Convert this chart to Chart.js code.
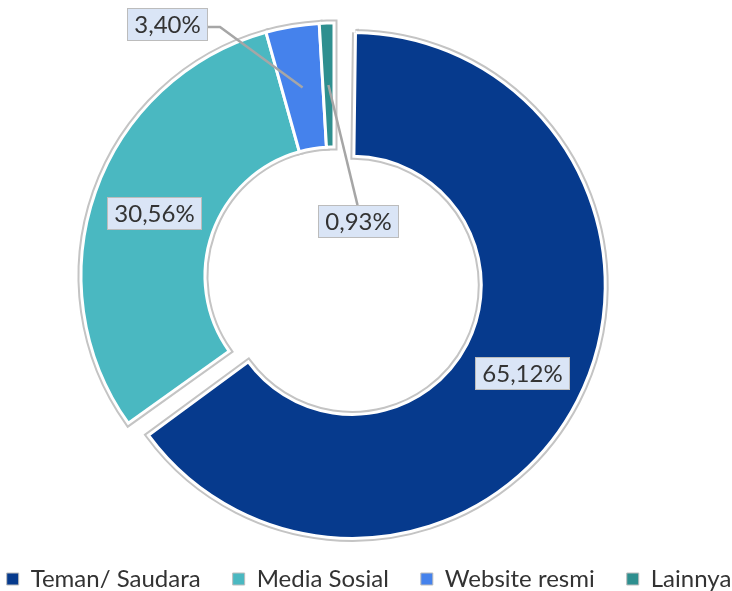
<!DOCTYPE html>
<html>
<head>
<meta charset="utf-8">
<script src="https://cdn.jsdelivr.net/npm/chart.js@4.4.1/dist/chart.umd.min.js"></script>
<style>
  html, body { margin: 0; padding: 0; background: #ffffff; }
  #wrap { width: 732px; height: 591px; position: relative; }
</style>
</head>
<body>
<div id="wrap"><canvas id="c" width="732" height="591"></canvas></div>
<script>
// ---- data ----
const categories = ['Teman/ Saudara', 'Media Sosial', 'Website resmi', 'Lainnya'];
const values = [65.12, 30.56, 3.40, 0.93];
const colors = ['#063a8d', '#4ab8c1', '#4582ec', '#2e8f8f'];

function fmt(v) { return v.toFixed(2).replace('.', ',') + '%'; }

// Chart.js moves an exploded arc by offset/4 and widens it by offset/4*fix
function explodeParts(arc) {
  const off = (arc.options.offset || 0) / 4;
  const fix = 1 - Math.sin(Math.min(Math.PI, arc.circumference || 0));
  return { off: off, grow: off * fix };
}

// keep an exploded slice at the same ring size as the others
const explodeFixPlugin = {
  id: 'explodeFix',
  afterDatasetsUpdate(chart) {
    const meta = chart.getDatasetMeta(0);
    meta.data.forEach(arc => {
      const e = explodeParts(arc);
      if (e.grow) {
        arc.outerRadius -= e.grow;
        arc.innerRadius -= e.grow;
      }
    });
  }
};

// draws a light grey outline around the slices (behind the white borders)
const outlinePlugin = {
  id: 'sliceOutline',
  beforeDatasetsDraw(chart, args, opts) {
    const ctx = chart.ctx;
    const meta = chart.getDatasetMeta(0);
    meta.data.forEach(arc => {
      const o = arc.options;
      arc.options = Object.assign({}, o, { borderColor: opts.color, borderWidth: opts.width, borderJoinStyle: 'miter' });
      arc.draw(ctx);
      arc.options = o;
    });
  }
};

// places the plot centre
const placePlugin = {
  id: 'place',
  afterLayout(chart, args, opts) {
    const r = opts.half;
    chart.chartArea = { left: opts.cx - r, right: opts.cx + r, top: opts.cy - r, bottom: opts.cy + r, width: 2 * r, height: 2 * r };
  }
};

// data labels with boxes and leader lines
const labelPlugin = {
  id: 'pieLabels',
  afterDatasetsDraw(chart, args, opts) {
    const ctx = chart.ctx;
    const meta = chart.getDatasetMeta(0);
    ctx.save();
    ctx.font = opts.font;
    ctx.textAlign = 'center';
    ctx.textBaseline = 'middle';
    meta.data.forEach((arc, i) => {
      const p = arc.getProps(['x', 'y', 'startAngle', 'endAngle', 'innerRadius', 'outerRadius', 'circumference']);
      const mid = (p.startAngle + p.endAngle) / 2;
      const e = explodeParts(arc);
      const rm = (p.innerRadius + p.outerRadius) / 2 + e.grow;
      const cx = p.x + Math.cos(mid) * (rm + e.off);
      const cy = p.y + Math.sin(mid) * (rm + e.off);
      const text = fmt(chart.data.datasets[0].data[i]);
      const tw = ctx.measureText(text).width;
      const bw = Math.round(tw + 2 * opts.padX);
      const bh = opts.boxH;
      const pos = opts.positions[i];
      let lx = cx, ly = cy;
      if (pos) {
        lx = p.x + pos[0] * p.outerRadius;
        ly = p.y + pos[1] * p.outerRadius;
        ctx.strokeStyle = opts.lineColor;
        ctx.lineWidth = opts.lineWidth;
        ctx.lineJoin = 'miter';
        ctx.beginPath();
        ctx.moveTo(cx, cy);
        if (opts.attach[i] === 'right') {
          ctx.lineTo(lx + bw / 2 + 13, ly + 3);
          ctx.lineTo(lx + bw / 2, ly + 3);
        } else {
          ctx.lineTo(lx, ly - bh / 2);
        }
        ctx.stroke();
      }
      const bx = Math.round(lx - bw / 2) + 0.5;
      const by = Math.round(ly - bh / 2) + 0.5;
      ctx.fillStyle = opts.boxFill;
      ctx.fillRect(bx, by, bw, bh);
      ctx.strokeStyle = opts.boxBorder;
      ctx.lineWidth = 1;
      ctx.strokeRect(bx, by, bw, bh);
      ctx.fillStyle = opts.textColor;
      ctx.fillText(text, bx + bw / 2, by + bh / 2 + 1);
    });
    ctx.restore();
  }
};

new Chart(document.getElementById('c'), {
  type: 'doughnut',
  data: {
    labels: categories,
    datasets: [{
      data: values,
      backgroundColor: colors,
      borderColor: '#ffffff',
      borderWidth: 3,
      borderJoinStyle: 'miter',
      offset: [82, 0, 0, 0],
      hoverOffset: 0,
      radius: 253,
      clip: false
    }]
  },
  options: {
    responsive: false,
    animation: false,
    events: [],
    cutout: '51%',
    layout: { padding: { left: -27, right: -33, top: 0, bottom: -10 } },
    plugins: {
      tooltip: { enabled: false },
      legend: {
        position: 'bottom',
        labels: {
          font: { family: 'Lato', size: 24 },
          color: '#333333',
          boxWidth: 12,
          boxHeight: 12,
          padding: 32,
          generateLabels: (chart) => categories.map((t, i) => ({
            text: t,
            fillStyle: colors[i],
            strokeStyle: '#bdbdbd',
            lineWidth: 1,
            hidden: false,
            index: i,
            fontColor: '#333333'
          }))
        }
      },
      sliceOutline: { color: '#c4c4c4', width: 7 },
      place: { cx: 334, cy: 276, half: 280 },
      pieLabels: {
        font: '24px Lato',
        padX: 7,
        boxH: 32,
        boxFill: '#dae5f6',
        boxBorder: '#bcbcbc',
        textColor: '#333333',
        lineColor: '#a6a6a6',
        lineWidth: 2.5,
        positions: [null, null, [-0.66, -0.996], [0.093, -0.217]],
        attach: [null, null, 'right', 'top']
      }
    }
  },
  plugins: [placePlugin, explodeFixPlugin, outlinePlugin, labelPlugin]
});
</script>
</body>
</html>
